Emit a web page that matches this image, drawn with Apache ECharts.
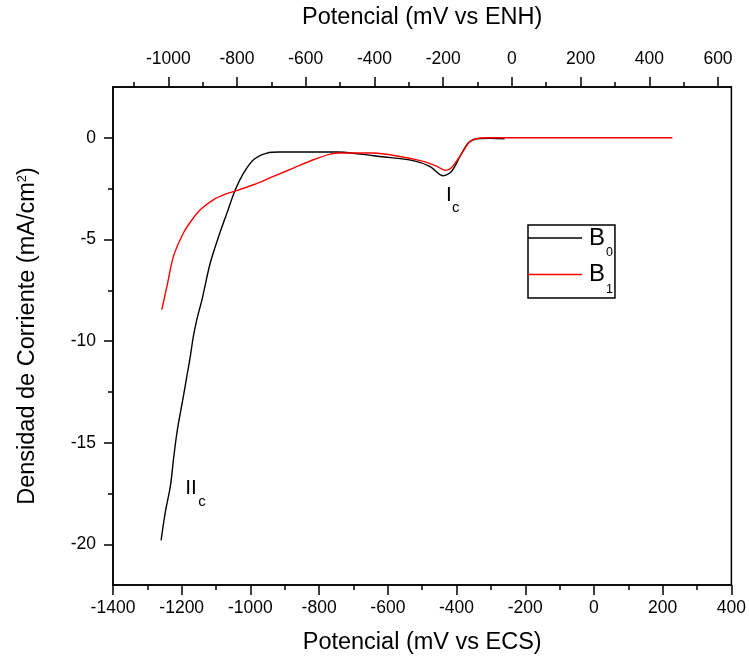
<!DOCTYPE html>
<html><head><meta charset="utf-8">
<script src="https://cdn.jsdelivr.net/npm/echarts@6/dist/echarts.min.js"></script>
<style>html,body{margin:0;padding:0;background:#fff}#c{width:749px;height:661px}</style>
</head><body><div id="c"></div>
<script>
// ---- data ----
const b0Potential = [-1260,-1248,-1233,-1224,-1214,-1204,-1195,-1185,-1175,-1166,-1156,-1141,-1117,-1093,-1069,-1044,-1020,-991,-952,-914,-850,-749,-681,-623,-526,-478,-439,-415,-390,-366,-342,-303,-260];
const b0Current   = [-19.8,-18.44,-17.14,-15.82,-14.51,-13.53,-12.71,-11.73,-10.75,-9.76,-8.94,-7.96,-6.16,-4.88,-3.73,-2.56,-1.74,-1.08,-0.75,-0.70,-0.70,-0.70,-0.80,-0.92,-1.12,-1.41,-1.87,-1.66,-0.92,-0.26,-0.05,-0.02,-0.05];
const b1Potential = [-1258,-1243,-1224,-1195,-1170,-1146,-1108,-1069,-1040,-991,-933,-875,-817,-768,-739,-642,-565,-497,-460,-432,-415,-381,-361,-337,-303,0,228];
const b1Current   = [-8.45,-7.31,-5.83,-4.68,-4.03,-3.54,-3.05,-2.75,-2.60,-2.31,-1.90,-1.49,-1.08,-0.80,-0.75,-0.75,-0.92,-1.16,-1.38,-1.60,-1.47,-0.67,-0.18,-0.02,0,0,0];
const enhOffset = 239;
const enhMajor = [-1000,-800,-600,-400,-200,0,200,400,600];
const enhMinor = [-1100,-900,-700,-500,-300,-100,100,300,500];
const yMajor = [-20,-15,-10,-5,0];
const yMinor = [-17.5,-12.5,-7.5,-2.5];
const seriesNames = ['B0','B1'];

const FONT = '"Liberation Sans", Arial, sans-serif';
const zip = (xs, ys) => xs.map((x, i) => [x, ys[i]]);
const axisLine = {show: true, onZero: false, lineStyle: {color: '#000', width: 1.5}};
const noLine = {show: false, onZero: false};
const tickStyle = {color: '#000', width: 1.5};
const plain = v => String(v);
const labelStyle = {color: '#000', fontSize: 17.5, fontFamily: FONT, formatter: plain};
const nameStyle = {color: '#000', fontSize: 23.5, fontFamily: FONT};

const chart = echarts.init(document.getElementById('c'));
chart.setOption({
  animation: false,
  backgroundColor: '#fff',
  grid: {left: 113, right: 17, top: 87, bottom: 76, show: true, borderColor: '#000', borderWidth: 1.5},
  xAxis: [
    {type: 'value', position: 'bottom', min: -1400, max: 400, interval: 200,
     axisLine, axisTick: {length: 10, lineStyle: tickStyle},
     minorTick: {show: true, splitNumber: 2, length: 5, lineStyle: tickStyle},
     splitLine: {show: false}, minorSplitLine: {show: false},
     axisLabel: Object.assign({margin: 14}, labelStyle),
     name: 'Potencial (mV vs ECS)', nameLocation: 'middle', nameGap: 46, nameTextStyle: nameStyle},
    {type: 'value', position: 'top', min: -1400 + enhOffset, max: 400 + enhOffset,
     axisLine, axisTick: {customValues: enhMajor, length: 10, lineStyle: tickStyle},
     splitLine: {show: false},
     axisLabel: Object.assign({customValues: enhMajor, margin: 19}, labelStyle),
     name: 'Potencial (mV vs ENH)', nameLocation: 'middle', nameGap: 57, nameTextStyle: nameStyle},
    {type: 'value', position: 'top', min: -1400 + enhOffset, max: 400 + enhOffset,
     axisLine: noLine, axisTick: {customValues: enhMinor, length: 5, lineStyle: tickStyle},
     splitLine: {show: false}, axisLabel: {show: false}}
  ],
  yAxis: [
    {type: 'value', position: 'left', min: -22, max: 2.5,
     axisLine, axisTick: {customValues: yMajor, length: 9, lineStyle: tickStyle},
     splitLine: {show: false},
     axisLabel: Object.assign({customValues: yMajor, margin: 17}, labelStyle),
     name: '{t|Densidad de Corriente (mA/cm}{sup|2}{t|)}', nameLocation: 'middle', nameGap: 73, nameRotate: 90,
     nameTextStyle: {color: '#000', fontFamily: FONT, rich: {
       t: {fontSize: 23.5, fontFamily: FONT, color: '#000', lineHeight: 24},
       sup: {fontSize: 13, fontFamily: FONT, color: '#000', lineHeight: 13, verticalAlign: 'top'}}}},
    {type: 'value', position: 'left', min: -22, max: 2.5,
     axisLine: noLine, axisTick: {customValues: yMinor, length: 5, lineStyle: tickStyle},
     splitLine: {show: false}, axisLabel: {show: false}}
  ],
  legend: {
    data: seriesNames, orient: 'vertical', left: 528, top: 225,
    padding: [1, 2, 2, 0], itemWidth: 54, itemHeight: 1.5, itemGap: 3, icon: 'rect',
    borderColor: '#000', borderWidth: 1.5, borderRadius: 0,
    formatter: n => '{b|B}{s|' + n.slice(1) + '}',
    textStyle: {color: '#000', rich: {
      b: {fontSize: 24, fontFamily: FONT, color: '#000', lineHeight: 24, verticalAlign: 'top', padding: [0, 0, 0, 2]},
      s: {fontSize: 12.5, fontFamily: FONT, color: '#000', lineHeight: 12.5, verticalAlign: 'top', padding: [20.5, 0, 0, 1]}}}
  },
  series: [
    {name: seriesNames[0], type: 'line', data: zip(b0Potential, b0Current), symbol: 'none', smooth: 0.3,
     lineStyle: {color: '#000', width: 1.4}, itemStyle: {color: '#000'}},
    {name: seriesNames[1], type: 'line', data: zip(b1Potential, b1Current), symbol: 'none', smooth: 0.3,
     lineStyle: {color: '#ff0000', width: 1.4}, itemStyle: {color: '#ff0000'}}
  ]
});

// annotations anchored in data coordinates
const notes = [
  {main: 'I', sub: 'c', at: [-431, -2.83], dx: 6, dy: 13},
  {main: 'II', sub: 'c', at: [-1190, -17.25], dx: 13, dy: 13}
];
const graphics = [];
notes.forEach(n => {
  const p = chart.convertToPixel({xAxisIndex: 0, yAxisIndex: 0}, n.at);
  graphics.push({type: 'text', x: p[0], y: p[1], style: {text: n.main, fill: '#000', font: '21px ' + FONT, verticalAlign: 'middle', align: 'left'}});
  graphics.push({type: 'text', x: p[0] + n.dx, y: p[1] + n.dy, style: {text: n.sub, fill: '#000', font: '15px ' + FONT, verticalAlign: 'middle', align: 'left'}});
});
chart.setOption({graphic: graphics});
</script></body></html>
